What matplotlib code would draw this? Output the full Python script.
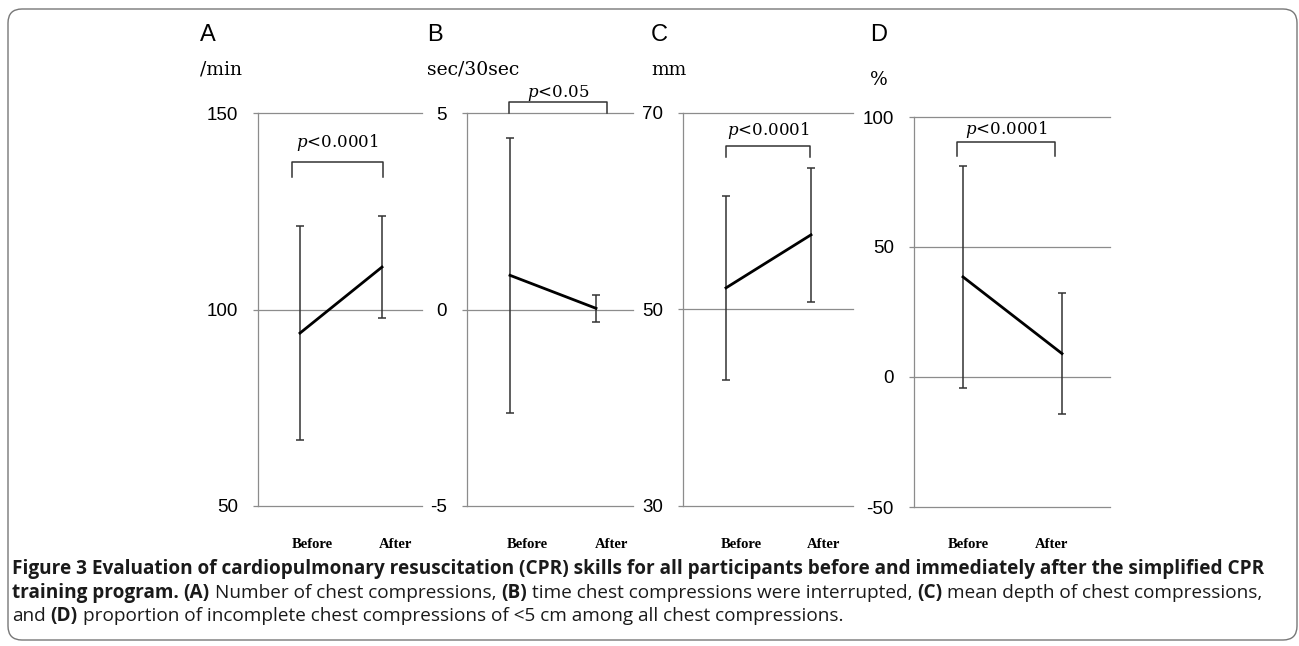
import matplotlib
matplotlib.use("Agg")
import matplotlib.pyplot as plt
from matplotlib.patches import FancyBboxPatch
from matplotlib.transforms import IdentityTransform, blended_transform_factory, offset_copy

W, H = 1299, 646

# -----------------------------------------------------------------------------
# data (mean +/- SD)

groups = ['Before', 'After']

a_mean = [94.0, 110.8]
a_sd = [27.3, 13.0]
b_mean = [0.87, 0.03]
b_sd = [3.5, 0.35]
c_mean = [52.2, 57.6]
c_sd = [9.4, 6.8]
d_mean = [38.5, 9.0]
d_sd = [42.7, 23.2]

letters = ['A', 'B', 'C', 'D']
units = ['/min', 'sec/30sec', 'mm', '%']
yticks = [[50, 100, 150], [-5, 0, 5], [30, 50, 70], [-50, 0, 50, 100]]
pvals = ['<0.0001', '<0.05', '<0.0001', '<0.0001']

# significance brackets: x from, x to, bar height, leg bottom, text centre
brk_x0 = [-0.10, -0.01, 0.00, -0.06]
brk_x1 = [1.01, 1.13, 0.99, 0.93]
brk_top = [137.5, 5.28, 66.6, 90.4]
brk_bot = [133.7, 5.0, 65.5, 85.0]
brk_txt = [142.6, 5.51, 68.2, 95.0]

means = [a_mean, b_mean, c_mean, d_mean]
sds = [a_sd, b_sd, c_sd, d_sd]

# layout in pixels: axis left, right, top, bottom, Before x, After x
boxes = [(258, 422, 113, 506, 300, 382),
         (467, 633, 113, 506, 510, 596),
         (683, 853, 113, 506, 726, 811),
         (914, 1110, 117, 507, 963, 1062)]
lab_dx = [(12, 14), (17, 16), (15, 13), (5, -10)]
let_x = [200, 427, 651, 870]
unit_y = [70, 70, 70, 80]

grey = '#8c8c8c'
fig = plt.figure(figsize=(W / 100, H / 100), dpi=100)

for i in range(4):
    L, R, T, B, x0, x1 = boxes[i]
    ax = fig.add_axes([L / W, 1 - B / H, (R - L) / W, (B - T) / H])
    u = x1 - x0
    ax.set_xlim((L - x0) / u, (R - x0) / u)
    ax.set_ylim(min(yticks[i]), max(yticks[i]))
    for s in ['top', 'right', 'bottom']:
        ax.spines[s].set_visible(False)
    ax.spines['left'].set_color(grey)
    ax.spines['left'].set_linewidth(0.9)
    for t in yticks[i]:
        ax.axhline(t, color=grey, lw=0.9, zorder=0, clip_on=False)
    ax.set_yticks(yticks[i])
    ax.set_yticklabels([str(t) for t in yticks[i]], family='Liberation Sans', fontsize=13.5)
    ax.tick_params(axis='y', length=3.6, width=0.9, color=grey, pad=11)
    ax.set_xticks([])

    xs = [0, 1]
    ax.errorbar(xs, means[i], yerr=sds[i], fmt='none', ecolor='#333333',
                elinewidth=1.1, capsize=3, capthick=1.1, zorder=2)
    ax.plot(xs, means[i], color='black', lw=2, zorder=3)

    # bracket + p value
    ax.plot([brk_x0[i], brk_x0[i], brk_x1[i], brk_x1[i]],
            [brk_bot[i], brk_top[i], brk_top[i], brk_bot[i]],
            color='#333333', lw=1.1, clip_on=False)
    ax.text((brk_x0[i] + brk_x1[i]) / 2, brk_txt[i], '$p$' + pvals[i],
            ha='center', va='center', family='DejaVu Serif', fontsize=12,
            math_fontfamily='dejavuserif', clip_on=False)

    # group labels
    tr = blended_transform_factory(ax.transData, fig.transFigure)
    for k, g in enumerate(groups):
        t2 = offset_copy(tr, fig=fig, x=lab_dx[i][k], y=0, units='dots')
        ax.text(xs[k], 1 - 544 / H, g, transform=t2, ha='center', va='center',
                family='Liberation Serif', fontweight='bold', fontsize=10.5)

    fig.text(let_x[i] / W, 1 - 35 / H, letters[i], family='Liberation Sans',
             fontsize=17, ha='left', va='center')
    fig.text(let_x[i] / W, 1 - unit_y[i] / H, units[i], family='DejaVu Serif',
             fontsize=13.5, ha='left', va='center')

# -----------------------------------------------------------------------------
# caption

cap_lines = [
    [('Figure 3 Evaluation of cardiopulmonary resuscitation (CPR) skills for all participants '
      'before and immediately after the simplified CPR', True)],
    [('training program. ', True), ('(A)', True), (' Number of chest compressions, ', False),
     ('(B)', True), (' time chest compressions were interrupted, ', False), ('(C)', True),
     (' mean depth of chest compressions,', False)],
    [('and ', False), ('(D)', True),
     (' proportion of incomplete chest compressions of <5 cm among all chest compressions.', False)],
]
cap_y = [574, 598, 621]

r = fig.canvas.get_renderer()


def text_w(s, bold, size):
    t = fig.text(0, 0, s, family='Open Sans', fontsize=size,
                 fontweight='bold' if bold else 'normal')
    w = t.get_window_extent(r).width
    t.remove()
    return w


cap_size = 13.7
space_w = {b: text_w('a a', b, cap_size) - text_w('aa', b, cap_size) for b in (True, False)}

for parts, yb in zip(cap_lines, cap_y):
    x = 12
    for s, bold in parts:
        lead = len(s) - len(s.lstrip(' '))
        trail = len(s) - len(s.rstrip(' '))
        x += lead * space_w[bold]
        t = fig.text(x / W, 1 - yb / H, s.strip(' '), family='Open Sans', fontsize=cap_size,
                     fontweight='bold' if bold else 'normal', color='#1a1a1a',
                     ha='left', va='baseline')
        x += t.get_window_extent(r).width + trail * space_w[bold]

# outer frame
frame = FancyBboxPatch((8, 6), 1289, 631, boxstyle='round,pad=0,rounding_size=14',
                       transform=IdentityTransform(), fill=False, ec='#777777', lw=1)
fig.add_artist(frame)

fig.savefig('out.png', dpi=100)
